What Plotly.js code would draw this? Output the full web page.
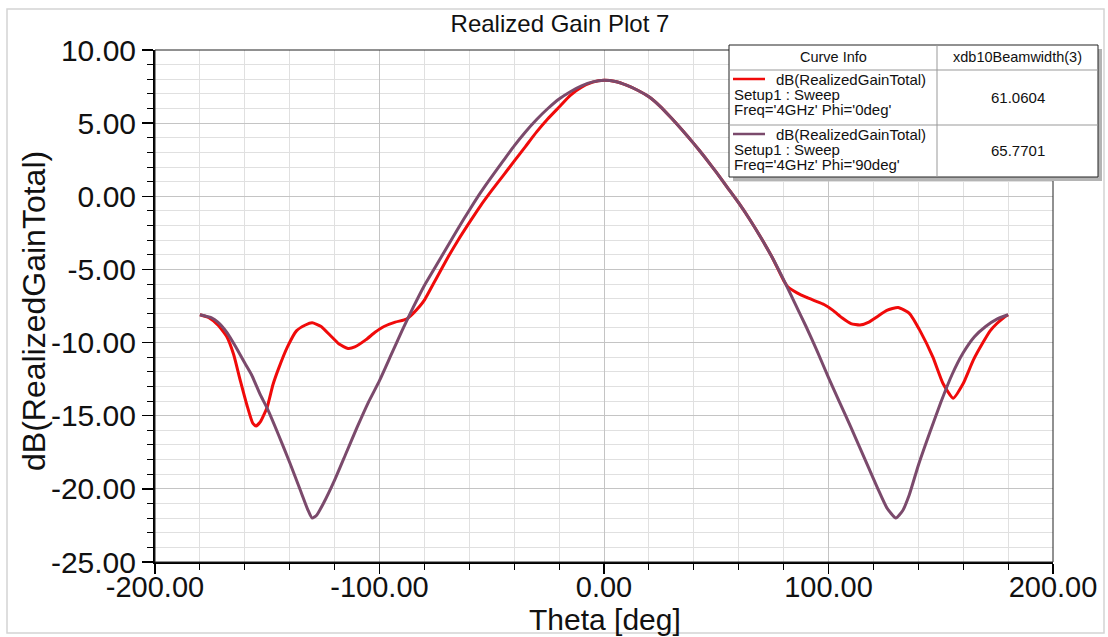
<!DOCTYPE html>
<html>
<head>
<meta charset="utf-8">
<script src="https://cdn.plot.ly/plotly-3.0.1.min.js"></script>
<style>
  html, body { margin: 0; padding: 0; background: #ffffff; }
  #chart { width: 1108px; height: 637px; }
</style>
</head>
<body>
<div id="chart"></div>
<script>
// ---------------- DATA ----------------
const chartTitle = "Realized Gain Plot 7";
const xAxisTitle = "Theta [deg]";
const yAxisTitle = "dB(RealizedGainTotal)";

const seriesNames = ["dB(RealizedGainTotal) Phi='0deg'", "dB(RealizedGainTotal) Phi='90deg'"];
const setupLabel = "Setup1 : Sweep";
const freqLabels = ["Freq='4GHz' Phi='0deg'", "Freq='4GHz' Phi='90deg'"];
const curveLabel = "dB(RealizedGainTotal)";
const tableHeaders = ["Curve Info", "xdb10Beamwidth(3)"];
const beamwidths = ["61.0604", "65.7701"];

// Phi = 0deg (red)
const thetaPhi0 = [-180, -176, -172, -168, -165, -162, -159, -156.5, -155, -153, -150, -147.5, -145, -141, -137, -133, -130, -126, -122, -118, -114, -111, -106, -102, -98, -93, -88, -85, -82, -80, -75, -70, -65, -60, -55, -50, -45, -40, -35, -30, -25, -20, -15, -10, -5, 0,
  5, 10, 15, 20, 25, 30, 35, 40, 45, 50, 55, 60, 65, 70, 75, 80, 82, 86, 90, 94, 98, 102, 106, 110, 114, 118, 122, 126, 131, 136, 140.8, 146.5, 151, 155.5, 160, 164.5, 168.8, 172, 175, 178, 180];
const gainPhi0 = [-8.1, -8.3, -8.8, -9.6, -10.8, -12.6, -14.3, -15.5, -15.7, -15.4, -14.4, -12.9, -11.8, -10.3, -9.2, -8.8, -8.65, -8.9, -9.5, -10.1, -10.4, -10.3, -9.8, -9.3, -8.9, -8.6, -8.4, -8.0, -7.5, -7.1, -5.7, -4.3, -3.0, -1.8, -0.65, 0.4, 1.4, 2.4, 3.4, 4.4, 5.3, 6.1, 6.9, 7.45, 7.8, 7.93,
  7.85, 7.6, 7.25, 6.8, 6.15, 5.35, 4.5, 3.6, 2.65, 1.65, 0.6, -0.45, -1.6, -2.85, -4.2, -5.75, -6.2, -6.6, -6.9, -7.15, -7.4, -7.8, -8.3, -8.7, -8.8, -8.6, -8.2, -7.8, -7.6, -8.0, -9.2, -11.0, -12.8, -13.8, -12.8, -11.2, -10.0, -9.2, -8.7, -8.3, -8.1];

// Phi = 90deg (purple)
const thetaPhi90 = [-180, -175, -172, -168, -164, -160, -157, -153, -150, -145, -140, -135, -132, -130, -128, -125, -120, -115, -110, -105, -100, -95, -90, -85, -80, -75, -70, -65, -60, -55, -50, -45, -40, -35, -30, -25, -20, -15, -10, -5, 0,
  5, 10, 15, 20, 25, 30, 35, 40, 45, 50, 55, 60, 65, 70, 75, 80, 85, 90, 95, 100, 105, 110, 114, 118, 122, 126, 130, 133, 136, 140, 145, 150, 155, 160, 165, 170, 175, 180];
const gainPhi90 = [-8.1, -8.3, -8.6, -9.3, -10.3, -11.4, -12.2, -13.6, -14.5, -16.3, -18.2, -20.2, -21.4, -22.0, -21.8, -21.0, -19.4, -17.6, -15.8, -14.1, -12.6, -10.9, -9.2, -7.6, -6.1, -4.8, -3.5, -2.2, -0.95, 0.25, 1.35, 2.4, 3.45, 4.4, 5.25, 6.0, 6.65, 7.15, 7.55, 7.82, 7.93,
  7.85, 7.6, 7.25, 6.8, 6.15, 5.35, 4.5, 3.6, 2.65, 1.65, 0.6, -0.45, -1.6, -2.85, -4.2, -5.7, -7.3, -8.9, -10.6, -12.4, -14.1, -15.8, -17.2, -18.6, -20.0, -21.3, -22.0, -21.5, -20.4, -18.4, -16.2, -14.1, -12.2, -10.7, -9.6, -8.9, -8.4, -8.1];

const xTickVals = [-200, -100, 0, 100, 200];
const xTickText = ["-200.00", "-100.00", "0.00", "100.00", "200.00"];
const yTickVals = [10, 5, 0, -5, -10, -15, -20, -25];
const yTickText = ["10.00", "5.00", "0.00", "-5.00", "-10.00", "-15.00", "-20.00", "-25.00"];

// ---------------- STYLE / LAYOUT ----------------
const W = 1108, H = 637;
const M = { l: 155, r: 55, t: 50, b: 75 };
const PW = W - M.l - M.r, PH = H - M.t - M.b;
const px2x = px => (px - M.l) / PW;
const py2y = py => (H - M.b - py) / PH;

const RED = "#f00a0a";
const PURPLE = "#7b4a6c";
const FONT = "Liberation Sans, Arial, sans-serif";

const traces = [
  { x: thetaPhi0, y: gainPhi0, name: seriesNames[0], type: "scatter", mode: "lines",
    line: { color: RED, width: 3, shape: "spline", smoothing: 0.5 } },
  { x: thetaPhi90, y: gainPhi90, name: seriesNames[1], type: "scatter", mode: "lines",
    line: { color: PURPLE, width: 3, shape: "spline", smoothing: 0.5 } }
];

// legend table geometry (pixels)
const tL = 729, tR = 1098, tT = 45, tB = 177, tC = 937, tH = 70, tM = 125;

const shapes = [
  { type: "rect", xref: "paper", yref: "paper", x0: px2x(7), x1: px2x(1104), y0: py2y(9), y1: py2y(633),
    line: { color: "#d4d4d4", width: 1.5 }, layer: "below" },
  { type: "rect", xref: "paper", yref: "paper", x0: 0, x1: 1, y0: 0, y1: 1,
    line: { color: "#222", width: 1 } },
  { type: "rect", xref: "paper", yref: "paper", x0: px2x(tL + 4), x1: px2x(tR + 4), y0: py2y(tB + 4), y1: py2y(tT + 4),
    fillcolor: "#b4b4b4", line: { width: 0 } },
  { type: "rect", xref: "paper", yref: "paper", x0: px2x(tL), x1: px2x(tR), y0: py2y(tB), y1: py2y(tT),
    fillcolor: "#ffffff", line: { color: "#222", width: 1 } },
  { type: "line", xref: "paper", yref: "paper", x0: px2x(tC), x1: px2x(tC), y0: py2y(tB), y1: py2y(tT),
    line: { color: "#999", width: 1 } },
  { type: "line", xref: "paper", yref: "paper", x0: px2x(tL), x1: px2x(tR), y0: py2y(tH), y1: py2y(tH),
    line: { color: "#999", width: 1 } },
  { type: "line", xref: "paper", yref: "paper", x0: px2x(tL), x1: px2x(tR), y0: py2y(tM), y1: py2y(tM),
    line: { color: "#999", width: 1 } },
  { type: "line", xref: "paper", yref: "paper", x0: px2x(733), x1: px2x(765), y0: py2y(79), y1: py2y(79),
    line: { color: RED, width: 2.5 } },
  { type: "line", xref: "paper", yref: "paper", x0: px2x(733), x1: px2x(765), y0: py2y(134), y1: py2y(134),
    line: { color: PURPLE, width: 2.5 } }
];

const tf = { family: FONT, size: 15, color: "#111" };
const ann = (text, px, py, xanchor, size) => ({
  text: text, xref: "paper", yref: "paper", x: px2x(px), y: py2y(py),
  xanchor: xanchor || "left", yanchor: "middle", showarrow: false,
  font: Object.assign({}, tf, size ? { size: size } : {})
});

const annotations = [
  ann(tableHeaders[0], (tL + tC) / 2, 57, "center", 14.5),
  ann(tableHeaders[1], (tC + tR) / 2, 57, "center", 14.5),
  ann(curveLabel, 774, 79, "left"),
  ann(setupLabel, 732, 94, "left"),
  ann(freqLabels[0], 732, 109, "left"),
  ann(beamwidths[0], (tC + tR) / 2, 97, "center"),
  ann(curveLabel, 774, 134, "left"),
  ann(setupLabel, 732, 149, "left"),
  ann(freqLabels[1], 732, 164, "left"),
  ann(beamwidths[1], (tC + tR) / 2, 150, "center"),
  { text: xAxisTitle, xref: "paper", yref: "paper", x: px2x(605), y: py2y(619), xanchor: "center", yanchor: "middle",
    showarrow: false, font: { family: FONT, size: 30, color: "#111" } },
  { text: yAxisTitle, xref: "paper", yref: "paper", x: px2x(34), y: py2y(311), xanchor: "center", yanchor: "middle",
    textangle: -90, showarrow: false, font: { family: FONT, size: 32, color: "#111" } }
];

const layout = {
  width: W, height: H,
  margin: M,
  paper_bgcolor: "#ffffff",
  plot_bgcolor: "#ffffff",
  showlegend: false,
  title: { text: chartTitle, x: 560 / W, xanchor: "center", y: 1 - 24 / H, yanchor: "middle",
    font: { family: FONT, size: 24, color: "#111" } },
  xaxis: {
    range: [-200, 200], tickmode: "array", tickvals: xTickVals, ticktext: xTickText,
    ticks: "outside", ticklen: 10, tickwidth: 1.5, tickcolor: "#000",
    ticklabelstandoff: -12,
    showline: true, linecolor: "#000", linewidth: 2,
    showgrid: true, gridcolor: "#c4c4c4", gridwidth: 1, zeroline: false,
    tickfont: { family: FONT, size: 29, color: "#111" },
    minor: { tickmode: "linear", tick0: 0, dtick: 20, ticks: "outside", ticklen: 6, tickwidth: 1, tickcolor: "#000",
      showgrid: true, gridcolor: "#e0e0e0", gridwidth: 1 }
  },
  yaxis: {
    range: [-25, 10], tickmode: "array", tickvals: yTickVals, ticktext: yTickText,
    ticks: "outside", ticklen: 11, tickwidth: 1.5, tickcolor: "#000",
    showline: true, linecolor: "#000", linewidth: 2,
    showgrid: true, gridcolor: "#c4c4c4", gridwidth: 1, zeroline: false,
    tickfont: { family: FONT, size: 30, color: "#111" },
    minor: { tickmode: "linear", tick0: 0, dtick: 1, ticks: "outside", ticklen: 6, tickwidth: 1, tickcolor: "#000",
      showgrid: true, gridcolor: "#e0e0e0", gridwidth: 1 }
  },
  shapes: shapes,
  annotations: annotations
};

Plotly.newPlot("chart", traces, layout, { displayModeBar: false, staticPlot: true });
</script>
</body>
</html>
